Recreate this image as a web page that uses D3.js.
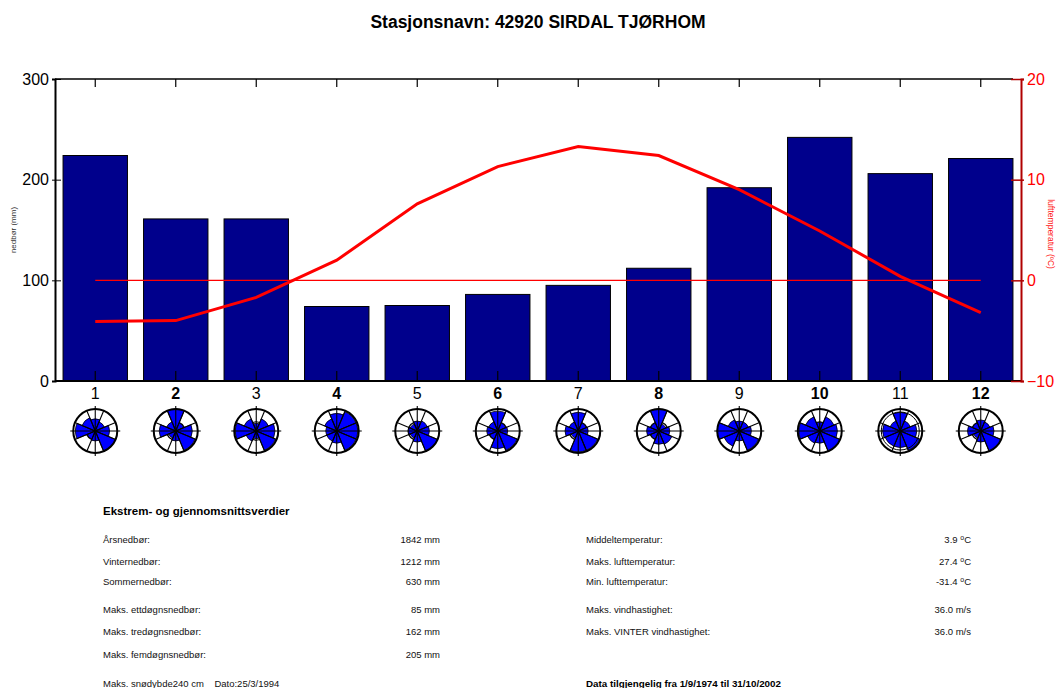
<!DOCTYPE html>
<html>
<head>
<meta charset="utf-8">
<script src="https://cdn.jsdelivr.net/npm/d3@7"></script>
<style>
  body { margin: 0; background: #fff; }
  svg { display: block; font-family: "Liberation Sans", Arial, sans-serif; }
</style>
</head>
<body>
<svg id="chart" width="1058" height="688"></svg>
<script>
// Monthly climate normals, station 42920 Sirdal Tjørhom
const months = ["1","2","3","4","5","6","7","8","9","10","11","12"];
const precipitation = [224, 161, 161, 74, 75, 86, 95, 112, 192, 242, 206, 221];   // mm
const temperature = [-4.1, -4.0, -1.7, 2.0, 7.6, 11.3, 13.3, 12.4, 9.0, 4.9, 0.4, -3.2]; // °C
const precipTicks = [0, 100, 200, 300];
const tempTicks = [-10, 0, 10, 20];

// Wind direction frequency per month (relative to the strongest sector): N, NE, E, SE, S, SW, W, NW
const windDirs = ["N","NE","E","SE","S","SW","W","NW"];
const windFreq = [
  [0.55, 0.45, 0.65, 1.00, 0.45, 0.40, 0.90, 0.65],
  [1.00, 0.40, 0.75, 0.95, 0.45, 0.35, 0.75, 0.45],
  [0.35, 0.60, 0.85, 0.95, 0.35, 0.50, 0.95, 0.60],
  [0.80, 0.95, 0.95, 0.95, 0.55, 0.50, 0.50, 0.60],
  [0.45, 0.50, 0.55, 1.00, 0.50, 0.35, 0.40, 0.35],
  [0.90, 0.40, 0.45, 0.95, 0.80, 0.40, 0.50, 0.45],
  [0.85, 0.40, 0.45, 0.95, 0.95, 0.35, 0.60, 0.45],
  [1.00, 0.35, 0.50, 0.65, 0.60, 0.40, 0.55, 0.40],
  [0.45, 0.45, 0.55, 0.95, 0.45, 0.75, 1.00, 0.55],
  [0.40, 0.70, 0.80, 1.00, 0.55, 0.60, 0.95, 0.70],
  [0.85, 0.50, 0.75, 0.95, 0.75, 0.75, 0.80, 0.50],
  [0.50, 0.45, 0.60, 1.00, 0.50, 0.35, 0.60, 0.40]
];

// Summary table
const leftLabels = ["Årsnedbør:", "Vinternedbør:", "Sommernedbør:", "Maks. ettdøgnsnedbør:", "Maks. tredøgnsnedbør:", "Maks. femdøgnsnedbør:"];
const leftValues = ["1842 mm", "1212 mm", "630 mm", "85 mm", "162 mm", "205 mm"];
const rightLabels = ["Middeltemperatur:", "Maks. lufttemperatur:", "Min. lufttemperatur:", "Maks. vindhastighet:", "Maks. VINTER vindhastighet:"];
const rightValues = ["3.9", "27.4", "-31.4", "36.0 m/s", "36.0 m/s"];
const rowY = [540, 562, 582, 610, 632, 655];

const svg = d3.select("#chart");
const plotLeft = 55, plotRight = 1021, plotTop = 79, plotBottom = 381;

const x = d3.scaleBand().domain(months).range([plotLeft, plotRight]).paddingInner(0.2).paddingOuter(0.1);
const xc = m => x(m) + x.bandwidth() / 2;
const yP = d3.scaleLinear().domain([0, 300]).range([plotBottom, plotTop]);
const yT = d3.scaleLinear().domain([-10, 20]).range([plotBottom, plotTop]);

// Title
svg.append("text").attr("x", 538).attr("y", 28).attr("text-anchor", "middle")
  .attr("font-size", 17.5).attr("font-weight", "bold").text("Stasjonsnavn: 42920 SIRDAL TJØRHOM");

// Precipitation bars
svg.append("g").selectAll("rect").data(precipitation).join("rect")
  .attr("x", (d, i) => x(months[i]))
  .attr("y", d => yP(d))
  .attr("width", x.bandwidth())
  .attr("height", d => yP(0) - yP(d))
  .attr("fill", "#00008c").attr("stroke", "#000").attr("stroke-width", 1);

// Plot frame: top border and bottom axis line
svg.append("line").attr("x1", plotLeft).attr("x2", 1013).attr("y1", plotTop).attr("y2", plotTop)
  .attr("stroke", "#000").attr("stroke-width", 1.5);
svg.append("line").attr("x1", plotLeft).attr("x2", plotRight).attr("y1", plotBottom).attr("y2", plotBottom)
  .attr("stroke", "#000").attr("stroke-width", 2);

// Month ticks on top and bottom edges
months.forEach(m => {
  svg.append("line").attr("x1", xc(m)).attr("x2", xc(m)).attr("y1", plotTop).attr("y2", plotTop + 8)
    .attr("stroke", "#000").attr("stroke-width", 1.2);
  svg.append("line").attr("x1", xc(m)).attr("x2", xc(m)).attr("y1", plotBottom - 10).attr("y2", plotBottom)
    .attr("stroke", "#000").attr("stroke-width", 1.2);
});

// Month labels
svg.append("g").selectAll("text").data(months).join("text")
  .attr("x", d => xc(d)).attr("y", 399).attr("text-anchor", "middle")
  .attr("font-size", 16).attr("font-weight", (d, i) => i % 2 === 1 ? "bold" : "normal")
  .text(d => d);

// Left axis (precipitation)
const axL = d3.axisLeft(yP).tickValues(precipTicks).tickSize(3).tickPadding(3);
const gL = svg.append("g").attr("transform", `translate(${plotLeft},0)`).call(axL);
gL.select(".domain").attr("stroke", "#000").attr("stroke-width", 2);
gL.selectAll(".tick line").attr("stroke", "#000").attr("x2", -3).attr("x1", 6);
gL.selectAll(".tick text").attr("font-size", 16).attr("font-family", "Liberation Sans, Arial, sans-serif").attr("fill", "#000");

svg.append("text").attr("transform", "translate(16,230) rotate(-90)").attr("text-anchor", "middle")
  .attr("font-size", 8).attr("fill", "#333").text("nedbør (mm)");

// Right axis (temperature)
const axR = d3.axisRight(yT).tickValues(tempTicks).tickSize(3).tickPadding(3);
const gR = svg.append("g").attr("transform", `translate(${plotRight},0)`).call(axR);
gR.select(".domain").attr("stroke", "#b00000").attr("stroke-width", 2);
gR.selectAll(".tick line").attr("stroke", "#b00000").attr("stroke-width", 1.5).attr("x1", -10).attr("x2", 3);
gR.selectAll(".tick text").attr("font-size", 16).attr("font-family", "Liberation Sans, Arial, sans-serif").attr("fill", "#ff0000");

svg.append("text").attr("transform", "translate(1048,234) rotate(90)").attr("text-anchor", "middle")
  .attr("font-size", 8.5).attr("fill", "#ff2020").text("lufttemperatur (ºC)");

// Zero-degree reference line
svg.append("line").attr("x1", xc(months[0])).attr("x2", xc(months[11]))
  .attr("y1", yT(0)).attr("y2", yT(0)).attr("stroke", "#ff0000").attr("stroke-width", 1.2);

// Temperature curve
svg.append("path").datum(temperature)
  .attr("d", d3.line().x((d, i) => xc(months[i])).y(d => yT(d)))
  .attr("fill", "none").attr("stroke", "#ff0000").attr("stroke-width", 3);

// Wind roses below each month
const R = 22, roseY = 431;
const rScale = d3.scaleLinear().domain([0, 1]).range([0, R]);
const sector = Math.PI / 4;
const arc = d3.arc().innerRadius(0);
windFreq.forEach((freqs, mi) => {
  const g = svg.append("g").attr("transform", `translate(${xc(months[mi])},${roseY})`);
  g.append("circle").attr("r", R).attr("fill", "#fff").attr("stroke", "none");
  g.append("circle").attr("r", R * 0.42).attr("fill", "none").attr("stroke", "#000").attr("stroke-width", 1.2);
  g.selectAll("path.w").data(freqs).join("path").attr("class", "w")
    .attr("d", (f, k) => arc({ outerRadius: rScale(f), startAngle: k * sector - sector / 2, endAngle: k * sector + sector / 2 }))
    .attr("fill", "#0000ff").attr("stroke", "#000").attr("stroke-width", 0.8);
  // sector boundaries
  d3.range(8).forEach(k => {
    const a = k * sector + sector / 2;
    g.append("line").attr("x1", 0).attr("y1", 0)
      .attr("x2", R * Math.sin(a)).attr("y2", -R * Math.cos(a))
      .attr("stroke", "#000").attr("stroke-width", 1.1);
  });
  // compass axes
  g.append("line").attr("x1", 0).attr("x2", 0).attr("y1", -R - 3).attr("y2", R + 3).attr("stroke", "#000").attr("stroke-width", 1.1);
  g.append("line").attr("y1", 0).attr("y2", 0).attr("x1", -R - 3).attr("x2", R + 3).attr("stroke", "#000").attr("stroke-width", 1.1);
  g.append("circle").attr("r", R).attr("fill", "none").attr("stroke", "#000").attr("stroke-width", 2);
  if (mi === 10) g.append("circle").attr("r", R - 3).attr("fill", "none").attr("stroke", "#000").attr("stroke-width", 1);
});

// Summary table
svg.append("text").attr("x", 103).attr("y", 515).attr("font-size", 11.5).attr("font-weight", "bold")
  .text("Ekstrem- og gjennomsnittsverdier");
const tbl = svg.append("g").attr("font-size", 9.5).attr("fill", "#111");
leftLabels.forEach((t, i) => {
  tbl.append("text").attr("x", 103).attr("y", rowY[i] + 3).text(t);
  tbl.append("text").attr("x", 440).attr("y", rowY[i] + 3).attr("text-anchor", "end").text(leftValues[i]);
});
rightLabels.forEach((t, i) => {
  tbl.append("text").attr("x", 586).attr("y", rowY[i] + 3).text(t);
  const v = tbl.append("text").attr("x", 971).attr("y", rowY[i] + 3).attr("text-anchor", "end");
  if (i < 3) {
    v.append("tspan").text(rightValues[i] + " ");
    v.append("tspan").attr("dy", -3.5).attr("font-size", 7).text("o");
    v.append("tspan").attr("dy", 3.5).text("C");
  } else {
    v.text(rightValues[i]);
  }
});
tbl.append("text").attr("x", 103).attr("y", 687).attr("xml:space", "preserve")
  .text("Maks. snødybde240 cm    Dato:25/3/1994");
svg.append("text").attr("x", 586).attr("y", 687).attr("font-size", 9.8).attr("font-weight", "bold")
  .text("Data tilgjengelig fra 1/9/1974 til 31/10/2002");
</script>
</body>
</html>
